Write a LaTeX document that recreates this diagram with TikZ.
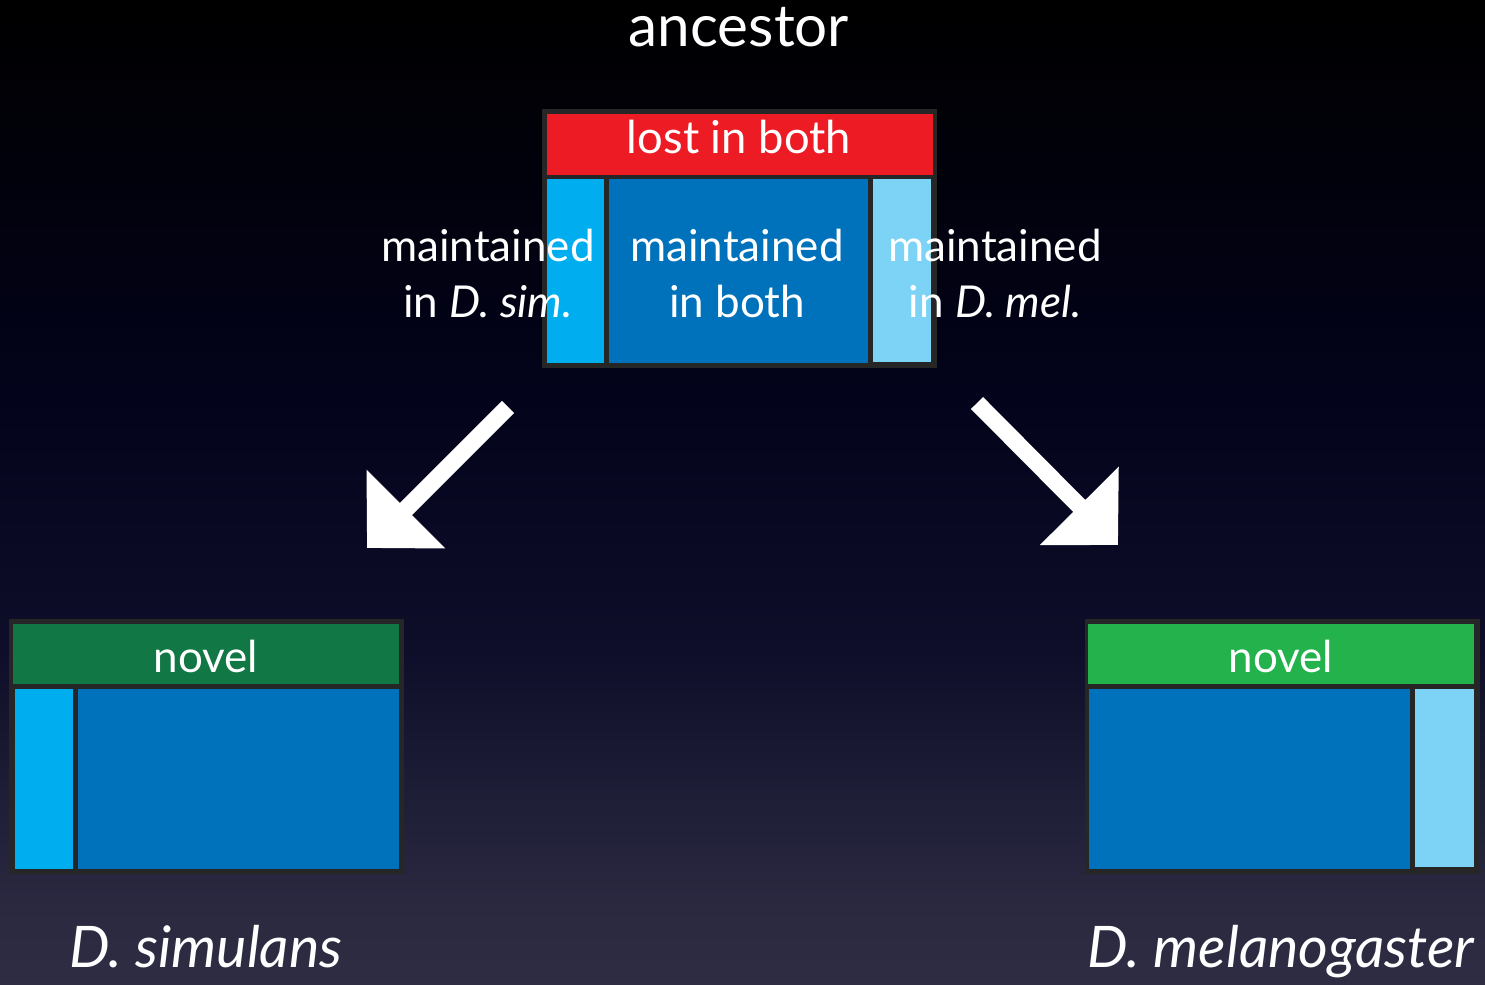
\documentclass[tikz,border=0pt]{standalone}
\usepackage{fontspec}
\setmainfont{Lato}
\usetikzlibrary{fit,arrows.meta}
\definecolor{bgbot}{HTML}{45445A}
\definecolor{bglow}{HTML}{2A2940}
\definecolor{bgmid}{HTML}{0E0E2A}
\definecolor{bgdark}{HTML}{03031B}
\definecolor{frame}{HTML}{262626}
\definecolor{lostred}{HTML}{ED1C24}
\definecolor{simcyan}{HTML}{00AEEF}
\definecolor{bothblue}{HTML}{0071BB}
\definecolor{melpale}{HTML}{7DD3F5}
\definecolor{novdark}{HTML}{117845}
\definecolor{novlight}{HTML}{23B24C}
\pgfdeclareverticalshading{bgshade}{100bp}{color(0bp)=(bgbot); color(29bp)=(bglow); color(42bp)=(bgmid); color(55bp)=(bgdark); color(75bp)=(black); color(100bp)=(black)}
\tikzset{
  cell/.style={inner sep=0pt, draw=frame, line width=0.02cm},
  outer/.style={inner sep=0pt, fill=frame, draw=frame},
  lbl/.style={text=white, font=\fontsize{12.5pt}{15.9pt}\selectfont, align=center, anchor=base, inner sep=0pt},
  big/.style={text=white, font=\fontsize{16.6pt}{19pt}\selectfont, anchor=base, inner sep=0pt},
  species/.style={text=white, font=\fontsize{16.3pt}{20pt}\selectfont\itshape, anchor=base, inner sep=0pt},
  blockarrow/.style={draw=white, line width=0.17cm, -{Triangle[length=0.55cm,width=1.08cm]}}
}
\begin{document}
\begin{tikzpicture}[x=0.01cm,y=-0.01cm]
\shade[shading=bgshade] (0,0) rectangle (1485,985);
\useasboundingbox (0,0) rectangle (1485,985);
% ancestor
\node[outer, fit={(543,110) (936,367)}] (aframe) {};
\node[cell, fill=lostred, fit={(546,113) (934,176)}] (alost) {};
\node[cell, fill=simcyan, fit={(546,178) (605,364)}] (asim) {};
\node[cell, fill=bothblue, fit={(608,178) (869,364)}] (aboth) {};
\node[cell, fill=melpale, fit={(872,178) (932,363)}] (amel) {};
\node[big] (tanc) at (739,47) {ancestor};
\node[lbl, font=\fontsize{12.9pt}{16pt}\selectfont] (tlost) at (739,154) {lost in both};
\node[lbl] (tboth) at (737,317) {maintained\\in both};
\node[lbl] (tsim) at (488,317) {maintained\\in \textit{D. sim.}};
\node[lbl] (tmel) at (995,317) {maintained\\in \textit{D. mel.}};
% left species
\node[outer, fit={(10,620) (403,873)}] (sframe) {};
\node[cell, fill=novdark, fit={(12,623) (400,685)}] (snov) {};
\node[cell, fill=simcyan, fit={(14,688) (74,870)}] (ssim) {};
\node[cell, fill=bothblue, fit={(77,688) (400,870)}] (sboth) {};
\node[lbl] (tsnov) at (206,672) {novel};
\node[species] (tsimulans) at (206,967) {D. simulans};
% right species
\node[outer, fit={(1086,620) (1479,873)}] (mframe) {};
\node[cell, fill=novlight, fit={(1087,623) (1475,685)}] (mnov) {};
\node[cell, fill=bothblue, fit={(1088,688) (1411,870)}] (mboth) {};
\node[cell, fill=melpale, fit={(1414,688) (1475,868)}] (mmel) {};
\node[lbl] (tmnov) at (1281,672) {novel};
\node[species] (tmelano) at (1281,967) {D. melanogaster};
% arrows
\coordinate (la0) at (508,407);
\coordinate (la1) at (367,548);
\coordinate (ra0) at (977,403);
\coordinate (ra1) at (1118,545);
\draw[blockarrow] (la0) -- (la1);
\draw[blockarrow] (ra0) -- (ra1);
\end{tikzpicture}
\end{document}
